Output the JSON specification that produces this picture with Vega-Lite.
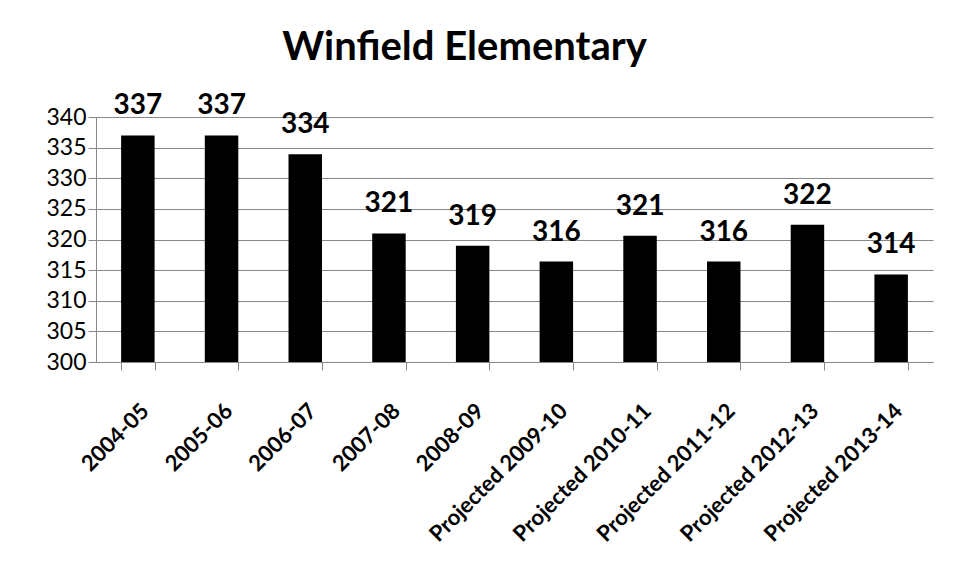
{
  "$schema": "https://vega.github.io/schema/vega-lite/v6.json",
  "width": 837,
  "height": 245,
  "autosize": {"type": "none"},
  "padding": {"left": 96, "top": 117, "right": 27, "bottom": 218},
  "background": "white",
  "title": {
    "text": "Winfield Elementary",
    "font": "Lato",
    "fontSize": 40,
    "fontWeight": "bold",
    "color": "black",
    "anchor": "middle",
    "dx": -50,
    "offset": 24
  },
  "data": {
    "values": [
      {"year": "2004-05", "students": 337, "label": "337"},
      {"year": "2005-06", "students": 337, "label": "337"},
      {"year": "2006-07", "students": 333.9, "label": "334"},
      {"year": "2007-08", "students": 321, "label": "321"},
      {"year": "2008-09", "students": 319, "label": "319"},
      {"year": "Projected 2009-10", "students": 316.4, "label": "316"},
      {"year": "Projected 2010-11", "students": 320.6, "label": "321"},
      {"year": "Projected 2011-12", "students": 316.4, "label": "316"},
      {"year": "Projected 2012-13", "students": 322.4, "label": "322"},
      {"year": "Projected 2013-14", "students": 314.3, "label": "314"}
    ]
  },
  "encoding": {
    "x": {
      "field": "year",
      "type": "nominal",
      "sort": null,
      "scale": {"paddingInner": 0.6, "paddingOuter": 0.3},
      "axis": {
        "title": null,
        "labelAngle": -45,
        "labelFont": "Lato",
        "labelFontSize": 22,
        "labelFontWeight": "bold",
        "labelColor": "black",
        "labelPadding": 30,
        "labelLimit": 0,
        "tickBand": "extent",
        "tickSize": 8,
        "tickColor": "#888888",
        "domainColor": "#888888",
        "grid": false,
        "zindex": 1
      }
    },
    "y": {
      "field": "students",
      "type": "quantitative",
      "scale": {"domain": [300, 340], "zero": false, "nice": false},
      "axis": {
        "title": null,
        "values": [300, 305, 310, 315, 320, 325, 330, 335, 340],
        "labelFont": "Lato",
        "labelFontSize": 23,
        "labelColor": "black",
        "labelPadding": 2,
        "tickSize": 8,
        "tickColor": "#888888",
        "domainColor": "#888888",
        "grid": true,
        "gridColor": "#888888",
        "gridOpacity": 1
      }
    }
  },
  "layer": [
    {"mark": {"type": "bar", "color": "black", "clip": true}},
    {
      "mark": {
        "type": "text",
        "font": "Lato",
        "fontSize": 28,
        "fontWeight": "bold",
        "color": "black",
        "baseline": "alphabetic",
        "dy": -21
      },
      "encoding": {"text": {"field": "label"}}
    }
  ],
  "config": {"view": {"stroke": null}}
}
